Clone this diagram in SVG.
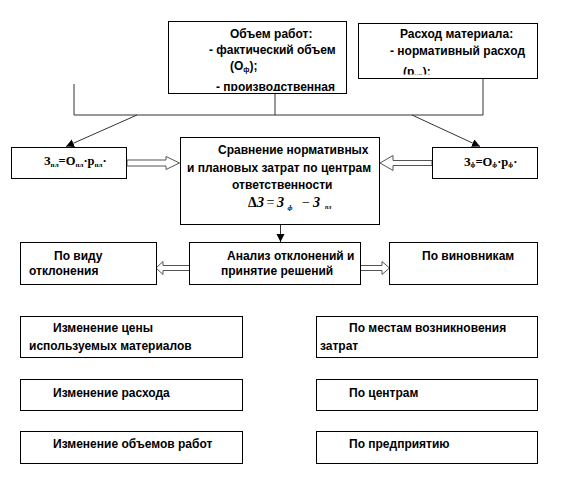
<svg xmlns="http://www.w3.org/2000/svg" width="569" height="495" viewBox="0 0 569 495">
<style>
.box{fill:#fff;stroke:#000;stroke-width:1}
.t{font-family:"Liberation Sans",Arial,sans-serif;font-weight:bold;font-size:12px;fill:#000}
.f{font-family:"Liberation Serif","Times New Roman",serif;font-weight:bold;font-size:12.5px;fill:#000}
.m{font-family:"Liberation Serif","Times New Roman",serif;font-style:italic;font-weight:bold;font-size:14px;fill:#000}
.ln{fill:none;stroke:#333;stroke-width:1}
.ha{fill:#fff;stroke:#555;stroke-width:1}
</style>
<defs>
<marker id="ah" markerWidth="9" markerHeight="9" refX="8" refY="4" orient="auto" markerUnits="userSpaceOnUse">
<path d="M0,0 L8,4 L0,8 Z" fill="#000"/>
</marker>
<clipPath id="c1"><rect x="168" y="21" width="179" height="70"/></clipPath>
<clipPath id="c2"><rect x="358" y="23" width="180" height="51.5"/></clipPath>
</defs>

<g id="connectors">
<polyline class="ln" points="74,84 74,115 483,115"/>
<line class="ln" x1="275" y1="94" x2="275" y2="115"/>
<line class="ln" x1="483" y1="79" x2="483" y2="115"/>
<line class="ln" x1="137" y1="115" x2="66" y2="146.5" marker-end="url(#ah)"/>
<line class="ln" x1="412" y1="115" x2="480" y2="146.5" marker-end="url(#ah)"/>
<line class="ln" x1="280.5" y1="224" x2="280.5" y2="242" marker-end="url(#ah)"/>
<polygon class="ha" points="127,160 166,160 166,156.5 179.5,163 166,169.5 166,166 127,166"/>
<polygon class="ha" points="432,160.5 393,160.5 393,155.5 380,163 393,170.5 393,165.5 432,165.5"/>
<polygon class="ha" points="190,265.5 163,265.5 163,261.5 156,268 163,274.5 163,270.5 190,270.5"/>
<polygon class="ha" points="360,265.5 382,265.5 382,261.5 389.5,268 382,274.5 382,270.5 360,270.5"/>
</g>

<g id="n-volume">
<rect class="box" x="168.5" y="21.5" width="178" height="72"/>
<g clip-path="url(#c1)">
<text class="t" x="230" y="37.5">Объем работ:</text>
<text class="t" x="209" y="54">- фактический объем</text>
<text class="t" x="230" y="70">(О<tspan font-size="7" dy="2">ф</tspan><tspan dy="-2">);</tspan></text>
<text class="t" x="216" y="90.5">- производственная</text>
</g>
</g>

<g id="n-material">
<rect class="box" x="358.5" y="23.5" width="179" height="55"/>
<g clip-path="url(#c2)">
<text class="t" x="400" y="38">Расход материала:</text>
<text class="t" x="390" y="54.5">- нормативный расход</text>
<text class="t" x="403" y="76">(р<tspan font-size="7" dy="2">нр</tspan><tspan dy="-2">);</tspan></text>
</g>
</g>

<g id="n-plan">
<rect class="box" x="11.5" y="147.5" width="115" height="31"/>
<text class="f" x="44" y="165">З<tspan font-size="7" dy="1.5">пл</tspan><tspan dy="-1.5">=О</tspan><tspan font-size="7" dy="1.5">пл</tspan><tspan dy="-1.5">·р</tspan><tspan font-size="7" dy="1.5">пл</tspan><tspan dy="-1.5">·</tspan></text>
</g>

<g id="n-fact">
<rect class="box" x="432.5" y="147.5" width="105" height="31"/>
<text class="f" x="464" y="165.5">З<tspan font-size="7" dy="1.5">ф</tspan><tspan dy="-1.5">=О</tspan><tspan font-size="7" dy="1.5">ф</tspan><tspan dy="-1.5">·р</tspan><tspan font-size="7" dy="1.5">ф</tspan><tspan dy="-1.5">·</tspan></text>
</g>

<g id="n-compare">
<rect class="box" x="180.5" y="137.5" width="199" height="87"/>
<text class="t" x="218" y="153.5">Сравнение нормативных</text>
<text class="t" x="187" y="171.5">и плановых затрат по центрам</text>
<text class="t" x="232" y="188.5">ответственности</text>
<text class="m" y="206.5"><tspan x="248" font-style="normal">Δ</tspan><tspan x="257">З</tspan><tspan x="266.5" font-style="normal" font-weight="normal">=</tspan><tspan x="277">З</tspan><tspan x="287.5" y="209.5" font-size="7">ф</tspan><tspan x="302" y="206.5" font-style="normal" font-weight="normal">−</tspan><tspan x="313">З</tspan><tspan x="325" y="209" font-size="6">пл</tspan></text>
</g>

<g id="n-kind">
<rect class="box" x="20.5" y="242.5" width="136" height="42"/>
<text class="t" x="54" y="260">По виду</text>
<text class="t" x="29" y="275">отклонения</text>
</g>

<g id="n-analysis">
<rect class="box" x="189.5" y="242.5" width="171" height="42"/>
<text class="t" x="227" y="260">Анализ отклонений и</text>
<text class="t" x="221" y="275">принятие решений</text>
</g>

<g id="n-culprit">
<rect class="box" x="389.5" y="242.5" width="148" height="42"/>
<text class="t" x="422" y="260">По виновникам</text>
</g>

<g id="n-price">
<rect class="box" x="20.5" y="316.5" width="222" height="41"/>
<text class="t" x="53" y="332">Изменение цены</text>
<text class="t" x="29" y="350">используемых материалов</text>
</g>

<g id="n-usage">
<rect class="box" x="20.5" y="379.5" width="222" height="31"/>
<text class="t" x="53" y="396.5">Изменение расхода</text>
</g>

<g id="n-workvol">
<rect class="box" x="20.5" y="431.5" width="222" height="32"/>
<text class="t" x="53" y="448">Изменение объемов работ</text>
</g>

<g id="n-places">
<rect class="box" x="316.5" y="316.5" width="221" height="41"/>
<text class="t" x="349" y="332">По местам возникновения</text>
<text class="t" x="320" y="350">затрат</text>
</g>

<g id="n-centers">
<rect class="box" x="316.5" y="379.5" width="221" height="31"/>
<text class="t" x="349" y="396.5">По центрам</text>
</g>

<g id="n-enterprise">
<rect class="box" x="316.5" y="431.5" width="221" height="32"/>
<text class="t" x="349" y="448">По предприятию</text>
</g>
</svg>
